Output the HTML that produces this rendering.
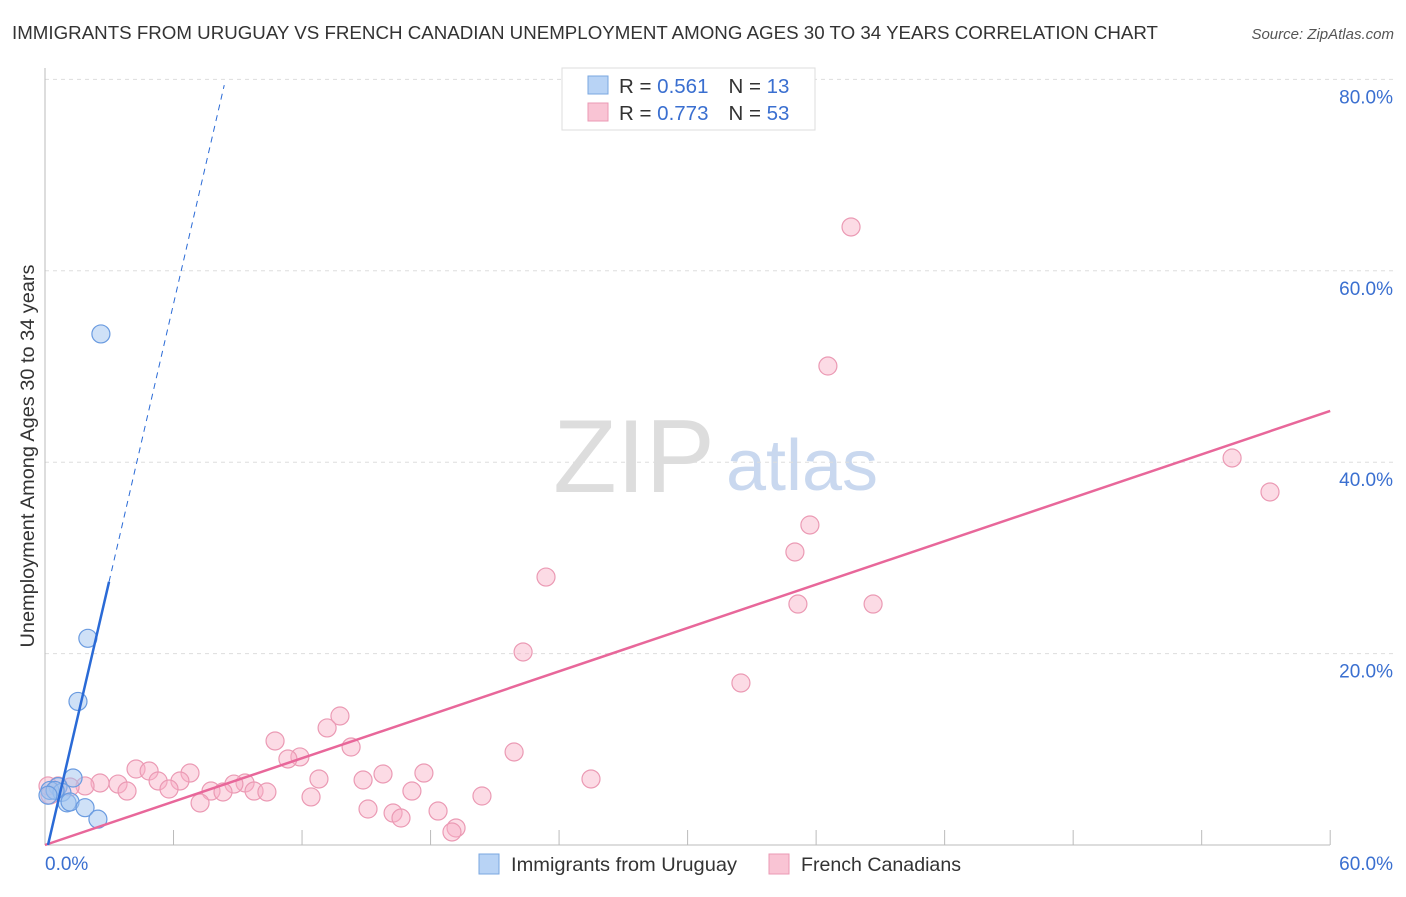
<!DOCTYPE html>
<html><head><meta charset="utf-8"><style>
body{margin:0;background:#fff;font-family:"Liberation Sans",sans-serif;}
svg text{font-family:"Liberation Sans",sans-serif;}
</style></head><body>
<svg id="c" width="1406" height="892">
<text x="12" y="39" font-size="18.5" fill="#333" textLength="1146" lengthAdjust="spacingAndGlyphs">IMMIGRANTS FROM URUGUAY VS FRENCH CANADIAN UNEMPLOYMENT AMONG AGES 30 TO 34 YEARS CORRELATION CHART</text>
<text x="1394" y="39" font-size="15" fill="#555" font-style="italic" text-anchor="end">Source: ZipAtlas.com</text>
<text x="34" y="456" font-size="19" fill="#333" text-anchor="middle" textLength="383" lengthAdjust="spacingAndGlyphs" transform="rotate(-90 34 456)">Unemployment Among Ages 30 to 34 years</text>
<text x="634" y="492" font-size="104" fill="#ddd" font-family="Liberation Serif" text-anchor="middle">ZIP</text>
<text x="802" y="490" font-size="72" fill="#c9d8ef" text-anchor="middle">atlas</text>
<g id="grid"></g><g id="marks"></g>
<g>
<rect x="562" y="68" width="253" height="62" fill="#fff" stroke="#ddd"/>
<rect x="588" y="76" width="20" height="18" fill="#b8d3f5" stroke="#7aa7e0"/>
<rect x="588" y="103" width="20" height="18" fill="#f9c4d4" stroke="#eb9ab4"/>
<text x="619" y="93" font-size="20.5" fill="#333">R = <tspan fill="#3a6fd0">0.561</tspan><tspan dx="20">N = </tspan><tspan fill="#3a6fd0">13</tspan></text>
<text x="619" y="120" font-size="20.5" fill="#333">R = <tspan fill="#3a6fd0">0.773</tspan><tspan dx="20">N = </tspan><tspan fill="#3a6fd0">53</tspan></text>
</g>
<g>
<rect x="479" y="854" width="20" height="20" fill="#b8d3f5" stroke="#7aa7e0"/>
<text x="511" y="871" font-size="19.5" fill="#333" textLength="226" lengthAdjust="spacingAndGlyphs">Immigrants from Uruguay</text>
<rect x="769" y="854" width="20" height="20" fill="#f9c4d4" stroke="#eb9ab4"/>
<text x="801" y="871" font-size="19.5" fill="#333" textLength="160" lengthAdjust="spacingAndGlyphs">French Canadians</text>
</g>
</svg>
<script>
const blueX=[2.61,2.0,1.54,1.31,0.61,0.23,0.79,1.03,1.17,1.87,2.47,0.47,0.14];
const blueY=[53.4,21.6,15.0,7.0,6.1,5.7,5.5,4.4,4.5,3.9,2.7,5.7,5.2];
const pinkX=[37.63,36.55,55.42,57.19,35.71,35.01,23.39,35.15,38.66,22.32,32.49,21.9,25.49,13.77,13.17,10.74,14.29,11.9,11.34,17.69,15.78,12.79,14.85,6.77,4.25,4.86,6.3,5.28,5.79,9.34,8.82,3.41,2.57,1.87,1.17,0.61,0.14,0.23,3.83,7.75,8.31,9.76,10.36,17.13,12.42,20.4,7.24,15.08,16.25,18.35,16.62,19.19,19.0];
const pinkY=[64.58,50.05,40.44,36.89,33.44,30.62,28.0,25.18,25.18,20.17,16.93,9.72,6.9,13.48,12.23,10.87,10.24,9.2,8.99,7.52,7.42,6.9,6.79,7.52,7.94,7.73,6.69,6.69,5.85,6.48,6.37,6.37,6.48,6.17,6.06,6.17,6.17,5.22,5.64,5.64,5.54,5.64,5.54,5.64,5.02,5.12,4.39,3.76,3.34,3.55,2.82,1.78,1.36];
const yTicks=[20,40,60,80];
const xTickLabels=["0.0%","60.0%"];
const blueTrend=[9.65,-1.35]; // slope, intercept
const pinkTrend=[0.756,0];
const NS="http://www.w3.org/2000/svg";
const sx=v=>45+v*21.42, sy=v=>845-v*9.57;
function mk(p,tag,a){const e=document.createElementNS(NS,tag);for(const k in a)e.setAttribute(k,a[k]);p.appendChild(e);return e;}
const g=document.getElementById('grid'), m=document.getElementById('marks');
yTicks.forEach(t=>{
 const l=mk(g,'line',{x1:45,x2:1394,y1:sy(t),y2:sy(t),stroke:'#ddd','stroke-dasharray':'4,4'});
 
 
 const tx=mk(g,'text',{x:1393,y:sy(t)+24,'font-size':19,fill:'#3a6fd0','text-anchor':'end'});
 tx.textContent=t.toFixed(1)+'%';
 
 
});
mk(g,'line',{x1:45,x2:45,y1:68,y2:845,stroke:'#bbb'});
mk(g,'line',{x1:45,x2:1330,y1:845,y2:845,stroke:'#bbb'});
for(let i=0;i<=10;i++){mk(g,'line',{x1:sx(i*6),x2:sx(i*6),y1:830,y2:845,stroke:'#bbb'});}
const xl0=mk(g,'text',{x:45,y:870,'font-size':19,fill:'#3a6fd0'});xl0.textContent=xTickLabels[0];


const xl1=mk(g,'text',{x:1393,y:870,'font-size':19,fill:'#3a6fd0','text-anchor':'end'});xl1.textContent=xTickLabels[1];


pinkX.forEach((x,i)=>{const c=mk(m,'circle',{cx:sx(x),cy:sy(pinkY[i]),r:9,fill:'rgba(248,175,198,0.45)',stroke:'#eb9ab4','stroke-width':1.2});
 
 });
blueX.forEach((x,i)=>{const c=mk(m,'circle',{cx:sx(x),cy:sy(blueY[i]),r:9,fill:'rgba(160,196,240,0.5)',stroke:'#6a9be0','stroke-width':1.2});
 
 });
const pl=mk(m,'line',{x1:sx(0),y1:sy(pinkTrend[1]),x2:sx(60),y2:sy(pinkTrend[0]*60+pinkTrend[1]),stroke:'#e8679a','stroke-width':2.5});


const bx0=-blueTrend[1]/blueTrend[0], bx1=2.99, bx2=(79.4-blueTrend[1])/blueTrend[0];
const bl=mk(m,'line',{x1:sx(bx0),y1:sy(0),x2:sx(bx1),y2:sy(blueTrend[0]*bx1+blueTrend[1]),stroke:'#2a6ad6','stroke-width':2.5});


const bd=mk(m,'line',{x1:sx(bx1),y1:sy(blueTrend[0]*bx1+blueTrend[1]),x2:sx(bx2),y2:sy(79.4),stroke:'#2a6ad6','stroke-width':1,'stroke-dasharray':'6,5'});


</script>
</body></html>
